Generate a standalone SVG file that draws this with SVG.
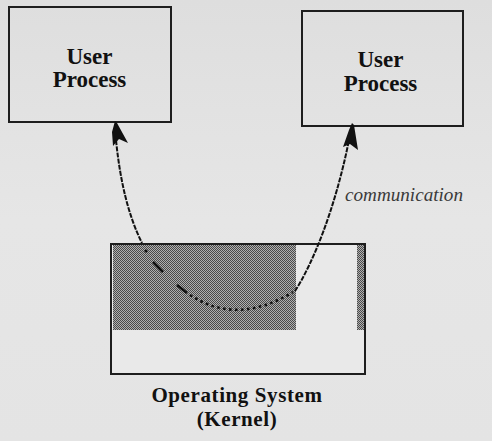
<svg xmlns="http://www.w3.org/2000/svg" width="492" height="441" viewBox="0 0 492 441">
  <defs>
    <linearGradient id="bg" x1="0" y1="0" x2="0" y2="1">
      <stop offset="0" stop-color="#dedede"/>
      <stop offset="0.5" stop-color="#e6e6e6"/>
      <stop offset="1" stop-color="#e4e4e4"/>
    </linearGradient>
    <pattern id="checker" x="0" y="0" width="2" height="2" patternUnits="userSpaceOnUse">
      <rect x="0" y="0" width="2" height="2" fill="#b0b0b0"/>
      <rect x="0" y="0" width="1" height="1" fill="#4a4a4a"/>
      <rect x="1" y="1" width="1" height="1" fill="#4a4a4a"/>
    </pattern>
    <style>
      .box { fill: none; stroke: #1e1e1e; stroke-width: 2; }
      .lbl { font-family: "Liberation Serif", "Times New Roman", serif; font-weight: bold; font-size: 23px; fill: #111; text-anchor: middle; }
      .os { font-size: 21px; letter-spacing: 0.6px; }
      .conn { fill: none; stroke: #111; stroke-width: 2; stroke-dasharray: 5 1.2; }
      .dots { fill: none; stroke: #111; stroke-width: 2.6; stroke-dasharray: 2.5 3.5; }
      .dash { fill: none; stroke: #111; stroke-width: 2.6; }
      .head { fill: #111; }
    </style>
  </defs>
  <rect x="0" y="0" width="492" height="441" fill="url(#bg)"/>

  <g id="user-process-left">
    <rect class="box" x="9" y="7" width="162" height="115"/>
    <text class="lbl" x="89.5" y="64">User</text>
    <text class="lbl" x="89.5" y="87">Process</text>
  </g>

  <g id="user-process-right">
    <rect class="box" x="302" y="11" width="161" height="115"/>
    <text class="lbl" x="380.5" y="67">User</text>
    <text class="lbl" x="380.5" y="90.5">Process</text>
  </g>

  <g id="kernel">
    <rect x="111" y="244" width="254" height="130" fill="#e9e9e9"/>
    <rect x="113" y="245" width="183" height="85" fill="url(#checker)"/>
    <rect x="357" y="245" width="7" height="85" fill="url(#checker)"/>
    <rect class="box" x="111" y="244" width="254" height="130"/>
    <text class="lbl os" x="237" y="402">Operating System</text>
    <text class="lbl os" x="237" y="426">(Kernel)</text>
  </g>

  <g id="connectors">
    <path class="conn" d="M116,140 C120,180 128,215 142,243"/>
    <polygon class="head" points="115,121 117,123 128,143 119,139 113,146 112,132"/>
    <circle cx="146" cy="251" r="1.6" fill="#111"/>
    <line class="dash" x1="153" y1="262" x2="163" y2="272"/>
    <line class="dash" x1="177" y1="285" x2="187" y2="293"/>
    <path class="dots" d="M190,295 Q237,326 293,292"/>
    <path class="conn" d="M295,291 C312,265 335,210 349,140"/>
    <polygon class="head" points="352,123 354,125 358,150 350,144 343,147 349,130"/>
    <text x="345" y="201" font-family="Liberation Serif, 'Times New Roman', serif" font-style="italic" font-size="19" fill="#3a3a3a" textLength="118" lengthAdjust="spacingAndGlyphs">communication</text>
  </g>
</svg>
